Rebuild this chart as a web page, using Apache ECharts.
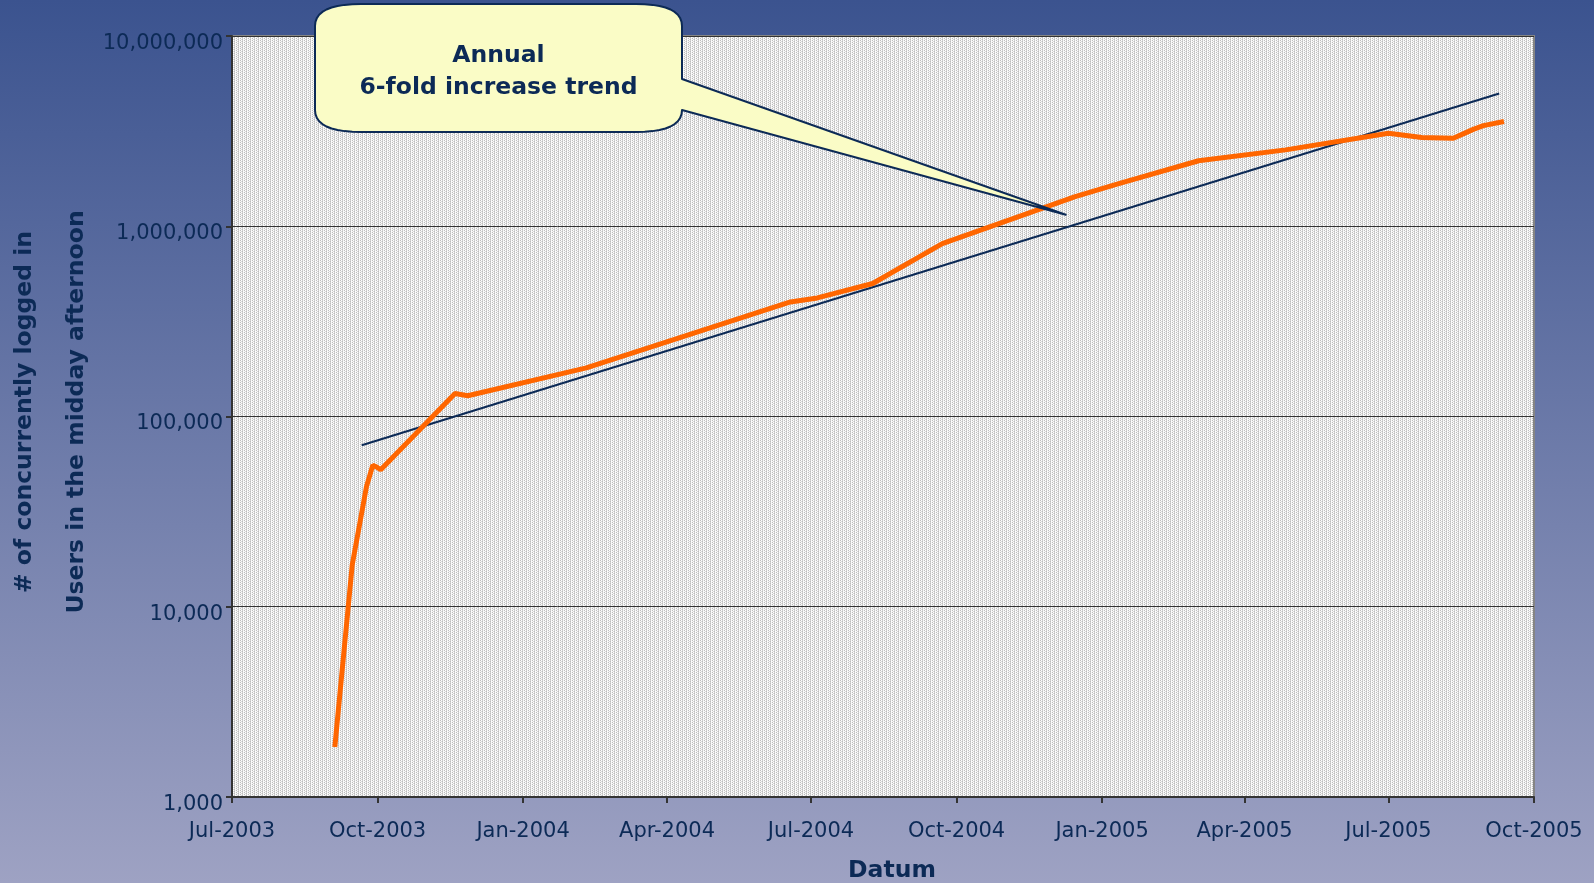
<!DOCTYPE html>
<html>
<head>
<meta charset="utf-8">
<title>Concurrently logged in users</title>
<script src="https://cdn.jsdelivr.net/npm/echarts@6/dist/echarts.min.js"></script>
<style>
html, body { margin: 0; padding: 0; }
#chart { width: 1594px; height: 883px; }
</style>
</head>
<body>
<div id="chart"></div>
<script>
// 用户数 (中午/下午同时在线)
const userDates = [
  '2003-09-04', '2003-09-15', '2003-09-24', '2003-09-28', '2003-09-30', '2003-10-03',
  '2003-11-19', '2003-11-27', '2003-11-28', '2004-02-10', '2004-06-18', '2004-07-05',
  '2004-08-09', '2004-09-22', '2004-12-15', '2005-01-11', '2005-03-03', '2005-04-27',
  '2005-07-01', '2005-07-22', '2005-08-11', '2005-08-24', '2005-08-30', '2005-09-12'
]
const userValues = [
  1830, 16600, 42800, 55500, 54500, 52500,
  132000, 128500, 131000, 180000, 400000, 420000,
  500000, 810000, 1430000, 1670000, 2210000, 2520000,
  3080000, 2930000, 2900000, 3240000, 3380000, 3550000
]

// 趋势线
const trendDates = ['2003-09-21', '2005-09-09']
const trendValues = [70600, 4990000]

// x轴刻度
const tickDates = [
  '2003-07-01', '2003-10-01', '2004-01-01', '2004-04-01', '2004-07-01',
  '2004-10-01', '2005-01-01', '2005-04-01', '2005-07-01', '2005-10-01'
]
const tickLabels = [
  'Jul-2003', 'Oct-2003', 'Jan-2004', 'Apr-2004', 'Jul-2004',
  'Oct-2004', 'Jan-2005', 'Apr-2005', 'Jul-2005', 'Oct-2005'
]

// 标注指向的点
const calloutDate = '2004-12-09'
const calloutValue = 1150000

const DAY = 86400000
const toDay = s => Math.round((Date.parse(s) - Date.parse(tickDates[0])) / DAY)
const tickDays = tickDates.map(toDay)

const navy = '#0c2a56'
const font = '"DejaVu Sans", Verdana, sans-serif'

// 网格背景的点状纹理
function makeStipple() {
  const c = document.createElement('canvas')
  c.width = 4
  c.height = 2
  const ctx = c.getContext('2d')
  const px = [
    ['#bdbdbd', '#ffffff', '#d2d2d2', '#f3f3f3'],
    ['#f3f3f3', '#dcdcdc', '#bdbdbd', '#ffffff']
  ]
  px.forEach((row, y) => row.forEach((col, x) => {
    ctx.fillStyle = col
    ctx.fillRect(x, y, 1, 1)
  }))
  return c
}

const chart = echarts.init(document.getElementById('chart'))

const option = {
  animation: false,
  backgroundColor: new echarts.graphic.LinearGradient(0, 0, 0, 1, [
    { offset: 0, color: '#3b538f' },
    { offset: 1, color: '#9ea2c3' }
  ]),
  grid: {
    left: 232,
    top: 36,
    right: 60,
    bottom: 86,
    show: true,
    borderColor: '#858585',
    borderWidth: 2,
    backgroundColor: { image: makeStipple(), repeat: 'repeat' }
  },
  xAxis: {
    type: 'value',
    min: 0,
    max: tickDays[tickDays.length - 1],
    splitLine: { show: false },
    axisLine: { show: true, onZero: false, lineStyle: { color: '#333', width: 2 } },
    axisTick: { show: true, length: 6, customValues: tickDays, lineStyle: { color: '#333', width: 2 } },
    axisLabel: {
      customValues: tickDays,
      formatter: v => tickLabels[tickDays.indexOf(Math.round(v))] || '',
      color: navy,
      fontFamily: font,
      fontSize: 21,
      margin: 24
    }
  },
  yAxis: {
    type: 'log',
    logBase: 10,
    min: 1000,
    max: 10000000,
    axisLine: { show: true, lineStyle: { color: '#333', width: 2 } },
    axisTick: { show: true, length: 6, lineStyle: { color: '#333', width: 2 } },
    splitLine: { show: true, lineStyle: { color: '#333', width: 1 } },
    axisLabel: {
      formatter: v => Math.round(v).toLocaleString('en-US'),
      color: navy,
      fontFamily: font,
      fontSize: 21,
      margin: 9,
      verticalAlign: 'top',
      lineHeight: 15
    }
  },
  series: [
    {
      name: 'trend',
      type: 'line',
      data: trendDates.map((d, i) => [toDay(d), trendValues[i]]),
      showSymbol: false,
      lineStyle: { color: navy, width: 2 },
      z: 2
    },
    {
      name: 'users',
      type: 'line',
      data: userDates.map((d, i) => [toDay(d), userValues[i]]),
      showSymbol: false,
      lineStyle: { color: '#ff6600', width: 5 },
      z: 3
    }
  ]
}
chart.setOption(option)

// 标注框: 圆角 + 指向尖角
const tip = chart.convertToPixel({ gridIndex: 0 }, [toDay(calloutDate), calloutValue])
const L = 315, R = 682, T = 4, B = 132, rx = 46, ry = 22, w1 = 79, w2 = 110

function corner(pts, p0, c, p1) {
  for (let i = 0; i <= 10; i++) {
    const t = i / 10
    const a = (1 - t) * (1 - t), b = 2 * t * (1 - t), d = t * t
    pts.push([a * p0[0] + b * c[0] + d * p1[0], a * p0[1] + b * c[1] + d * p1[1]])
  }
}
const box = []
corner(box, [R - rx, T], [R, T], [R, T + ry])
box.push([R, w1], tip, [R, w2])
corner(box, [R, B - ry], [R, B], [R - rx, B])
corner(box, [L + rx, B], [L, B], [L, B - ry])
corner(box, [L, T + ry], [L, T], [L + rx, T])

chart.setOption({
  graphic: [
    {
      type: 'polygon',
      z: 100,
      shape: { points: box },
      style: { fill: '#fafcc6', stroke: navy, lineWidth: 2, lineJoin: 'round' }
    },
    {
      type: 'text',
      z: 101,
      x: (L + R) / 2,
      y: 72,
      style: {
        text: 'Annual\n6-fold increase trend',
        fill: navy,
        fontFamily: font,
        fontSize: 23.5,
        fontWeight: 'bold',
        lineHeight: 32,
        align: 'center',
        verticalAlign: 'middle'
      }
    },
    {
      type: 'text',
      z: 101,
      x: 51,
      y: 412,
      rotation: Math.PI / 2,
      style: {
        text: '# of concurrently logged in\nUsers in the midday afternoon',
        fill: navy,
        fontFamily: font,
        fontSize: 23.5,
        fontWeight: 'bold',
        lineHeight: 52,
        align: 'center',
        verticalAlign: 'middle'
      }
    },
    {
      type: 'text',
      z: 101,
      x: 892,
      y: 871,
      style: {
        text: 'Datum',
        fill: navy,
        fontFamily: font,
        fontSize: 23.5,
        fontWeight: 'bold',
        align: 'center',
        verticalAlign: 'middle'
      }
    }
  ]
})
</script>
</body>
</html>
